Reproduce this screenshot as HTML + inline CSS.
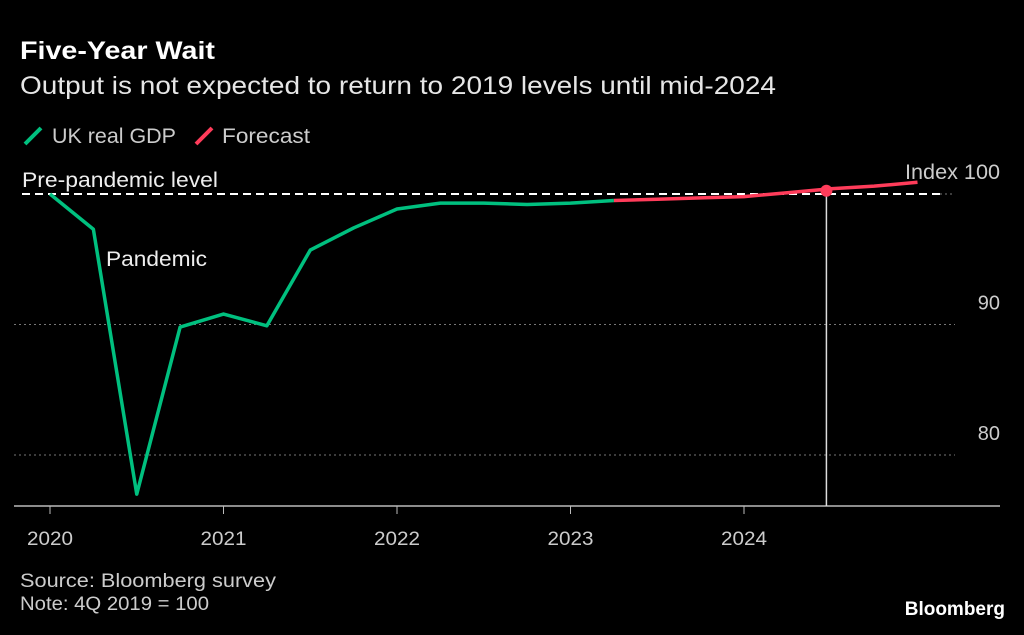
<!DOCTYPE html>
<html><head><meta charset="utf-8"><style>
html,body{margin:0;padding:0;background:#000;width:1024px;height:635px;overflow:hidden}
svg{display:block;font-family:"Liberation Sans",sans-serif}
</style></head><body>
<svg id="c" width="1024" height="635">
<text x="20" y="59" fill="#fff" font-size="25" font-weight="bold" textLength="195" lengthAdjust="spacingAndGlyphs">Five-Year Wait</text>
<text x="20" y="94" fill="#e6e6e6" font-size="25" textLength="756" lengthAdjust="spacingAndGlyphs">Output is not expected to return to 2019 levels until mid-2024</text>
<g>
<line x1="25" y1="144" x2="41" y2="128" stroke="#00c07f" stroke-width="4"/>
<text x="52" y="143" fill="#ccc" font-size="21" textLength="124" lengthAdjust="spacingAndGlyphs">UK real GDP</text>
<line x1="196" y1="144" x2="212" y2="128" stroke="#ff3c5a" stroke-width="4"/>
<text x="222" y="143" fill="#ccc" font-size="21" textLength="88" lengthAdjust="spacingAndGlyphs">Forecast</text>
</g>
<g id="grid"></g>
<g id="marks"></g>
<text x="20" y="587" fill="#ccc" font-size="19" textLength="256" lengthAdjust="spacingAndGlyphs">Source: Bloomberg survey</text>
<text x="20" y="610" fill="#ccc" font-size="19" textLength="189" lengthAdjust="spacingAndGlyphs">Note: 4Q 2019 = 100</text>
<text x="1005" y="615" fill="#fff" font-size="19" font-weight="bold" text-anchor="end">Bloomberg</text>
</svg>
<script>
const years=[2020,2021,2022,2023,2024];
const yTicks=[90,80];
const gdp=[100,97.3,77,89.8,90.8,89.9,95.7,97.4,98.85,99.3,99.3,99.2,99.3,99.5];
const forecast=[99.5,99.6,99.7,99.8,100.1,100.4,100.6,100.9];
const gdpStart=0, forecastStart=13, markerQ=17.9;
const NS="http://www.w3.org/2000/svg";
const X=q=>50+q*173.5/4;
const Y=v=>194-(v-100)*13.05;
function mk(tag,attrs,parent){const e=document.createElementNS(NS,tag);for(const k in attrs)e.setAttribute(k,attrs[k]);document.getElementById(parent).appendChild(e);return e;}
yTicks.forEach(t=>{
 const l=mk('line',{x1:14,x2:955,y1:Y(t),y2:Y(t),stroke:'#777','stroke-dasharray':'2 3'},'grid');
 
 
 const tx=mk('text',{x:1000,y:Y(t)-15,fill:'#ccc','font-size':20,'text-anchor':'end'},'grid');tx.textContent=t;
 
 
});
let g=mk('line',{x1:940,x2:955,y1:Y(100),y2:Y(100),stroke:'#777','stroke-dasharray':'2 3'},'grid');


let d=mk('line',{x1:22,x2:940,y1:Y(100),y2:Y(100),stroke:'#fff','stroke-width':2,'stroke-dasharray':'8 5'},'grid');


let t1=mk('text',{x:22,y:187,fill:'#eee','font-size':21,textLength:196,lengthAdjust:'spacingAndGlyphs'},'grid');t1.textContent='Pre-pandemic level';


let t2=mk('text',{x:905,y:179,fill:'#ccc','font-size':21,textLength:95,lengthAdjust:'spacingAndGlyphs'},'grid');t2.textContent='Index 100';


let ax=mk('line',{x1:14,x2:1000,y1:506,y2:506,stroke:'#bbb','stroke-width':1.5},'grid');


years.forEach((yr,i)=>{
 const x=X(i*4);
 const tk=mk('line',{x1:x,x2:x,y1:506,y2:514,stroke:'#bbb'},'grid');
 
 
 const tx=mk('text',{x:x,y:545,fill:'#ccc','font-size':19,'text-anchor':'middle',textLength:46,lengthAdjust:'spacingAndGlyphs'},'grid');tx.textContent=yr;
 
 
});
const vx=X(markerQ);
let vl=mk('line',{x1:vx,x2:vx,y1:Y(100.25),y2:506,stroke:'#ddd','stroke-width':1.5},'marks');


let p1=mk('polyline',{points:gdp.map((v,i)=>X(gdpStart+i)+','+Y(v)).join(' '),fill:'none',stroke:'#00c07f','stroke-width':3.5,'stroke-linejoin':'round'},'marks');


let p2=mk('polyline',{points:forecast.map((v,i)=>X(forecastStart+i)+','+Y(v)).join(' '),fill:'none',stroke:'#ff3c5a','stroke-width':3.5,'stroke-linejoin':'round'},'marks');


let dot=mk('circle',{cx:vx,cy:Y(100.25),r:6,fill:'#ff3c5a'},'marks');


let pt=mk('text',{x:106,y:266,fill:'#eee','font-size':21,textLength:101,lengthAdjust:'spacingAndGlyphs'},'marks');pt.textContent='Pandemic';


</script>
</body></html>
